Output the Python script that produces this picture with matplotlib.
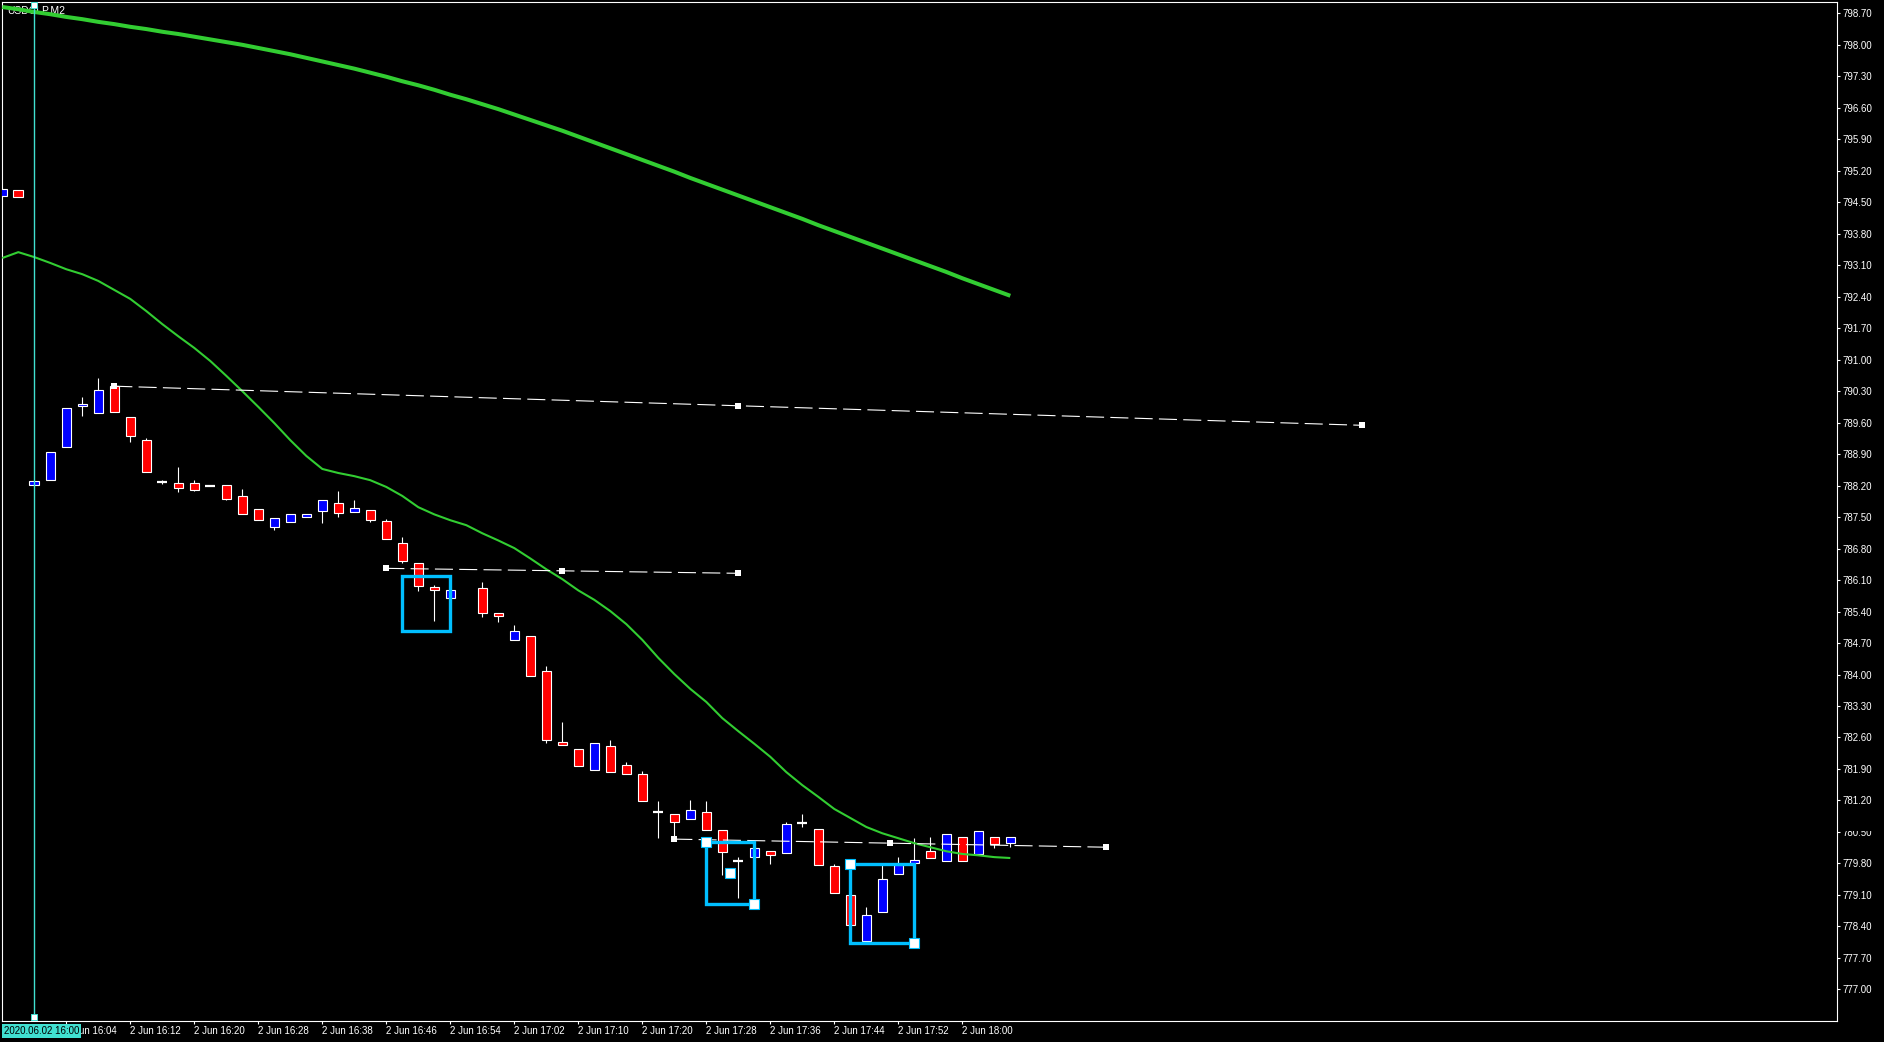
import numpy as np
import matplotlib.pyplot as plt
from matplotlib.patches import Rectangle

plt.rcParams['font.family'] = ['Liberation Sans', 'DejaVu Sans']
plt.rcParams['lines.scale_dashes'] = False

# bar index 0 = 2 Jun 16:00 (M2 bars)
bars = list(range(-2, 62))
opens = [794.64, 794.77, 788.21, 788.32, 789.06, 789.96, 789.81, 790.41, 789.72, 789.21,
         788.29, 788.25, 788.25, 788.20, 788.21, 787.96, 787.67, 787.27, 787.40, 787.51,
         787.64, 787.81, 787.62, 787.65, 787.41, 786.92, 786.49, 785.94, 785.71, np.nan,
         785.92, 785.36, 784.76, 784.85, 784.07, 782.51, 782.34, 781.88, 782.40, 781.98,
         781.78, 780.95, 780.89, 780.78, 780.94, 780.54, 779.85, 779.95, 780.07, 780.04,
         780.70, 780.56, 779.74, 779.09, 778.07, 778.73, 779.57, 779.82, 780.07, 779.86,
         780.38, 780.02, 780.38, 780.26]
highs = [794.79, 794.77, 788.30, 788.94, 789.92, 790.17, 790.59, 790.43, 789.72, 789.26,
         788.32, 788.61, 788.32, 788.20, 788.21, 788.12, 787.67, 787.47, 787.56, 787.57,
         787.87, 788.08, 787.88, 787.65, 787.46, 787.06, 786.49, 785.98, 785.87, np.nan,
         786.06, 785.36, 785.10, 784.85, 784.19, 782.94, 782.34, 782.47, 782.54, 782.05,
         781.85, 781.19, 780.89, 781.21, 781.19, 780.54, 779.95, 780.14, 780.07, 780.72,
         780.90, 780.56, 779.79, 779.09, 778.83, 779.76, 779.95, 780.37, 780.39, 780.45,
         780.38, 780.52, 780.38, 780.38]
lows = [794.64, 794.62, 788.21, 788.32, 789.06, 789.75, 789.81, 789.84, 789.18, 788.51,
        788.24, 788.06, 788.09, 788.20, 787.88, 787.57, 787.44, 787.21, 787.40, 787.51,
        787.37, 787.51, 787.62, 787.39, 787.02, 786.47, 785.86, 785.20, 785.71, np.nan,
        785.27, 785.17, 784.76, 783.97, 782.48, 782.44, 781.97, 781.88, 781.84, 781.78,
        781.18, 780.37, 780.38, 780.78, 780.54, 779.54, 779.04, 779.77, 779.79, 780.04,
        780.62, 779.77, 779.15, 778.42, 778.07, 778.73, 779.57, 779.62, 779.93, 779.86,
        779.86, 780.02, 780.15, 780.17]
closes = [794.79, 794.62, 788.30, 788.94, 789.92, 790.01, 790.33, 789.84, 789.31, 788.51,
          788.29, 788.15, 788.11, 788.20, 787.91, 787.57, 787.44, 787.47, 787.56, 787.57,
          787.87, 787.60, 787.70, 787.44, 787.02, 786.53, 785.97, 785.87, 785.87, np.nan,
          785.36, 785.29, 784.97, 783.97, 782.55, 782.44, 781.97, 782.47, 781.84, 781.78,
          781.18, 780.95, 780.71, 780.98, 780.54, 780.05, 779.85, 780.14, 779.98, 780.67,
          780.70, 779.77, 779.15, 778.42, 778.65, 779.45, 779.76, 779.87, 779.93, 780.45,
          779.86, 780.52, 780.24, 780.38]

ma_fast = [793.26, 793.39, 793.28, 793.15, 793.01, 792.90, 792.75, 792.55, 792.35, 792.08,
           791.79, 791.52, 791.26, 790.97, 790.64, 790.30, 789.95, 789.59, 789.21, 788.86,
           788.57, 788.48, 788.41, 788.32, 788.17, 787.97, 787.72, 787.56, 787.43, 787.32,
           787.14, 786.98, 786.81, 786.58, 786.34, 786.12, 785.87, 785.66, 785.41, 785.12,
           784.77, 784.37, 784.01, 783.68, 783.39, 783.03, 782.74, 782.46, 782.17, 781.83,
           781.54, 781.28, 781.01, 780.81, 780.61, 780.47, 780.36, 780.25, 780.16, 780.07,
           780.01, 779.98, 779.94, 779.92]
ma_slow = [798.84, 798.79, 798.73, 798.68, 798.62, 798.57, 798.51, 798.46, 798.40, 798.35,
           798.29, 798.24, 798.18, 798.12, 798.06, 798.00, 797.93, 797.86, 797.79, 797.71,
           797.63, 797.55, 797.47, 797.38, 797.29, 797.19, 797.10, 797.00, 796.89, 796.79,
           796.68, 796.57, 796.45, 796.33, 796.21, 796.09, 795.96, 795.83, 795.70, 795.57,
           795.44, 795.31, 795.18, 795.04, 794.91, 794.78, 794.65, 794.52, 794.39, 794.26,
           794.13, 793.99, 793.86, 793.73, 793.60, 793.47, 793.34, 793.21, 793.08, 792.95,
           792.81, 792.68, 792.55, 792.42]

# trend lines: (bar, price) start / end
trend_lines = [((5, 790.41), (83, 789.54)),
               ((22, 786.36), (44, 786.25)),
               ((40, 780.34), (67, 780.16))]
# rectangles: bar left, bar right, price low, price high
boxes = [(23, 26, 784.96, 786.20), (42, 45, 778.90, 780.27), (51, 55, 778.04, 779.79)]
box_handles = [(42, 780.27), (45, 778.90), (43.48, 779.58), (51, 779.79), (55, 778.04)]

x_ticks = [2, 6, 10, 14, 18, 22, 26, 30, 34, 38, 42, 46, 50, 54, 58]
x_labels = ["2 Jun 16:04", "2 Jun 16:12", "2 Jun 16:20", "2 Jun 16:28", "2 Jun 16:38",
            "2 Jun 16:46", "2 Jun 16:54", "2 Jun 17:02", "2 Jun 17:10", "2 Jun 17:20",
            "2 Jun 17:28", "2 Jun 17:36", "2 Jun 17:44", "2 Jun 17:52", "2 Jun 18:00"]
y_labels = ["777.00", "777.70", "778.40", "779.10", "779.80", "780.50", "781.20", "781.90",
            "782.60", "783.30", "784.00", "784.70", "785.40", "786.10", "786.80", "787.50",
            "788.20", "788.90", "789.60", "790.30", "791.00", "791.70", "792.40", "793.10",
            "793.80", "794.50", "795.20", "795.90", "796.60", "797.30", "798.00", "798.70"]

W, H = 1884, 1042
fig = plt.figure(figsize=(W / 100, H / 100), dpi=100, facecolor='black')
ax = fig.add_axes([2.3 / W, 21.3 / H, 1834.4 / W, 1018.4 / H])
ax.set_facecolor('black')
ax.set_xlim(-2.0, 112.65)
ax.set_ylim(776.303, 798.945)

x = np.array(bars)
o = np.array(opens)
hi = np.array(highs)
lo = np.array(lows)
c = np.array(closes)
ok = ~np.isnan(o)

# wicks
ax.vlines(x[ok], lo[ok], hi[ok], color='white', lw=0.8, zorder=2)
# bodies
flat = ok & (np.abs(c - o) < 0.02)
body = ok & ~flat
cols = np.where(c >= o, '#0000FF', '#FF0000')
ax.bar(x[body], np.abs(c - o)[body], bottom=np.minimum(o, c)[body], width=0.6,
       color=cols[body], edgecolor='white', linewidth=0.8, zorder=3)
ax.hlines(c[flat], x[flat] - 0.32, x[flat] + 0.32, color='white', lw=1.6, zorder=3)

# moving averages
ax.plot(x, ma_slow, color='#32CD32', lw=2.9, zorder=4, solid_capstyle='butt')
ax.plot(x, ma_fast, color='#32CD32', lw=1.5, zorder=4, solid_capstyle='butt')

# dashed trend lines with anchor points
for (b0, p0), (b1, p1) in trend_lines:
    ax.plot([b0, b1], [p0, p1], color='white', lw=0.8, dashes=(13, 4.5), zorder=5)
    ax.plot([b0, (b0 + b1) / 2, b1], [p0, (p0 + p1) / 2, p1], 's', color='white',
            ms=3.8, mew=0, zorder=5)

# rectangles
for b0, b1, p0, p1 in boxes:
    ax.add_patch(Rectangle((b0, p0), b1 - b0, p1 - p0, fill=False,
                           edgecolor='#00BFFF', lw=2.4, zorder=5))
hx, hy = zip(*box_handles)
ax.plot(hx, hy, 's', ms=7, mfc='white', mec='#00BFFF', mew=0.8, zorder=6)

# vertical line at 16:00
ax.axvline(0, color='#40E0D0', lw=1.0, zorder=4)
ax.plot([0, 0], [798.88, 776.38], 's', ms=4, mfc='white', mec='#40E0D0', mew=0.7,
        zorder=6, clip_on=False)

ax.text(0.00256, 0.9973, 'USDCLP,M2', transform=ax.transAxes, color='white',
        fontsize=7.5, va='top', ha='left', zorder=1)

for s in ax.spines.values():
    s.set_color('white')
    s.set_linewidth(0.8)

ax.yaxis.tick_right()
ax.set_yticks([float(v) for v in y_labels])
ax.set_yticklabels(y_labels)
ax.set_xticks(x_ticks)
ax.set_xticklabels(x_labels, ha='left')
ax.tick_params(axis='both', colors='white', labelcolor='white', labelsize=7,
               length=2.5, width=0.8, direction='out')
ax.tick_params(axis='y', pad=1.5)
ax.tick_params(axis='x', pad=1.5)

# the 780.50 price label is half hidden in the terminal
fig.patches.append(Rectangle((1838.5 / W, (H - 830.5) / H), 45 / W, 8 / H,
                             transform=fig.transFigure, fc='black', ec='none', zorder=5))

fig.text(3.6 / W, 1 - 1031 / H, '2020.06.02 16:00', color='black', fontsize=7,
         ha='left', va='center',
         bbox=dict(boxstyle='square,pad=0.2', fc='#40E0D0', ec='none'))

fig.savefig('out.png', dpi=100, facecolor='black')
